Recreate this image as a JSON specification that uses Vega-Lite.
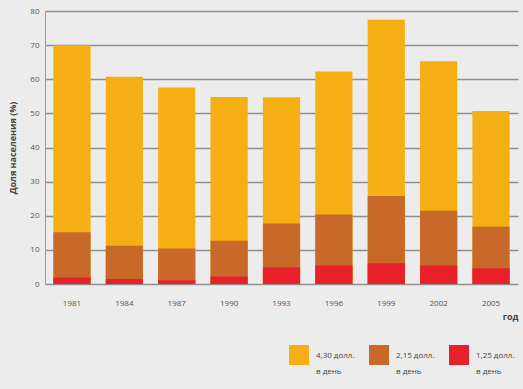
{
  "$schema": "https://vega.github.io/schema/vega-lite/v6.json",
  "width": 473,
  "height": 273,
  "autosize": "none",
  "padding": {"left": 45, "top": 11, "right": 5, "bottom": 105},
  "background": "#ececec",
  "config": {
    "view": {"stroke": null},
    "font": "Open Sans",
    "axis": {"labelColor": "#555555", "titleColor": "#444444"}
  },
  "data": {
    "values": [
      {"год": "1981", "порог": "4,30 долл. в день", "доля": 70.0},
      {"год": "1984", "порог": "4,30 долл. в день", "доля": 60.7},
      {"год": "1987", "порог": "4,30 долл. в день", "доля": 57.6},
      {"год": "1990", "порог": "4,30 долл. в день", "доля": 54.8},
      {"год": "1993", "порог": "4,30 долл. в день", "доля": 54.7},
      {"год": "1996", "порог": "4,30 долл. в день", "доля": 62.3},
      {"год": "1999", "порог": "4,30 долл. в день", "доля": 77.4},
      {"год": "2002", "порог": "4,30 долл. в день", "доля": 65.3},
      {"год": "2005", "порог": "4,30 долл. в день", "доля": 50.7},
      {"год": "1981", "порог": "2,15 долл. в день", "доля": 15.2},
      {"год": "1984", "порог": "2,15 долл. в день", "доля": 11.2},
      {"год": "1987", "порог": "2,15 долл. в день", "доля": 10.4},
      {"год": "1990", "порог": "2,15 долл. в день", "доля": 12.7},
      {"год": "1993", "порог": "2,15 долл. в день", "доля": 17.7},
      {"год": "1996", "порог": "2,15 долл. в день", "доля": 20.4},
      {"год": "1999", "порог": "2,15 долл. в день", "доля": 25.8},
      {"год": "2002", "порог": "2,15 долл. в день", "доля": 21.5},
      {"год": "2005", "порог": "2,15 долл. в день", "доля": 16.8},
      {"год": "1981", "порог": "1,25 долл. в день", "доля": 1.9},
      {"год": "1984", "порог": "1,25 долл. в день", "доля": 1.5},
      {"год": "1987", "порог": "1,25 долл. в день", "доля": 1.1},
      {"год": "1990", "порог": "1,25 долл. в день", "доля": 2.2},
      {"год": "1993", "порог": "1,25 долл. в день", "доля": 4.9},
      {"год": "1996", "порог": "1,25 долл. в день", "доля": 5.4},
      {"год": "1999", "порог": "1,25 долл. в день", "доля": 6.1},
      {"год": "2002", "порог": "1,25 долл. в день", "доля": 5.4},
      {"год": "2005", "порог": "1,25 долл. в день", "доля": 4.6}
    ]
  },
  "mark": {"type": "bar"},
  "encoding": {
    "x": {
      "field": "год",
      "type": "ordinal",
      "scale": {"paddingInner": 0.29, "paddingOuter": 0.16},
      "axis": {
        "labelAngle": 0,
        "labelFontSize": 8,
        "labelPadding": 15,
        "ticks": false,
        "domain": false,
        "title": "год",
        "titleFontSize": 9,
        "titleFontWeight": "bold",
        "titleAnchor": "end",
        "titlePadding": 5
      }
    },
    "y": {
      "field": "доля",
      "type": "quantitative",
      "stack": null,
      "scale": {"domain": [0, 80]},
      "axis": {
        "values": [0, 10, 20, 30, 40, 50, 60, 70, 80],
        "labelFontSize": 8,
        "labelPadding": 6,
        "ticks": false,
        "domain": true,
        "domainColor": "#999999",
        "gridColor": "#8f8f8f",
        "gridWidth": 1.4,
        "title": "Доля населения (%)",
        "titleFontSize": 9,
        "titleFontWeight": "bold",
        "titlePadding": 12
      }
    },
    "color": {
      "field": "порог",
      "type": "nominal",
      "scale": {
        "domain": ["4,30 долл. в день", "2,15 долл. в день", "1,25 долл. в день"],
        "range": ["#f5ae14", "#c8692a", "#e8202a"]
      },
      "legend": {
        "title": null,
        "orient": "none",
        "legendX": 244,
        "legendY": 334,
        "direction": "horizontal",
        "columns": 3,
        "gridAlign": "all",
        "columnPadding": 14,
        "symbolType": "square",
        "symbolSize": 400,
        "symbolStrokeWidth": 0,
        "symbolOpacity": 1,
        "labelFontSize": 8,
        "labelColor": "#444444",
        "labelOffset": 7,
        "labelBaseline": "middle",
        "labelExpr": "[replace(datum.label, ' в день', ''), 'в день']",
        "labelLineHeight": 16,
        "encode": {
          "labels": {"update": {"lineHeight": {"value": 16}, "dy": {"value": 1}}}
        }
      }
    }
  }
}
